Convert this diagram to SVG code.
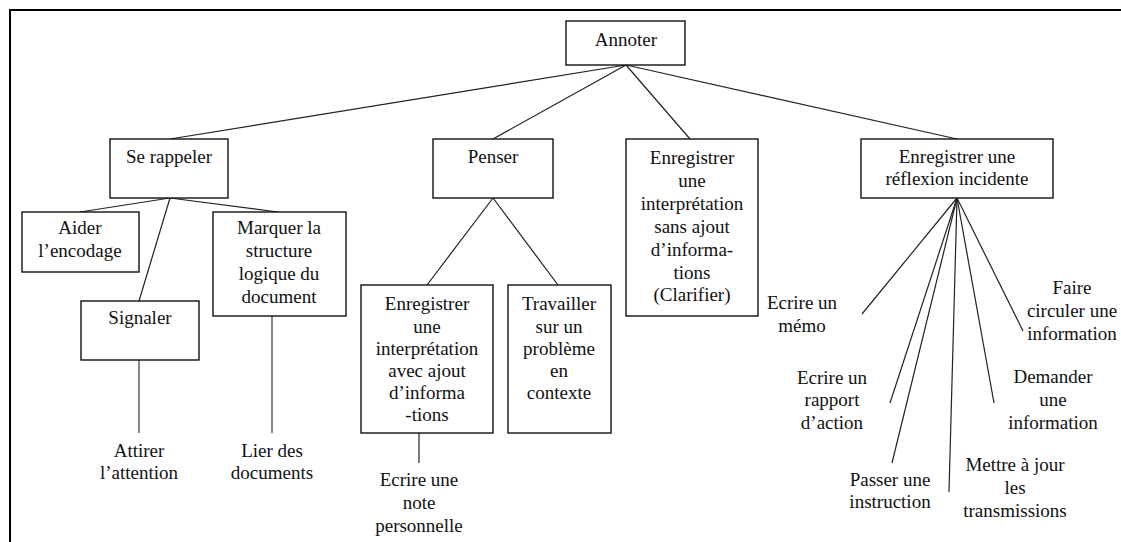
<svg xmlns="http://www.w3.org/2000/svg" width="1121" height="542" viewBox="0 0 1121 542">
<style>
.box{fill:#fff;stroke:#111;stroke-width:1.4}
.t{font-size:19px;fill:#111;text-anchor:middle}
.c{stroke:#222;stroke-width:1.2;fill:none}
.g{stroke:#555;stroke-width:1.4;fill:none}
</style>
<rect x="0" y="0" width="1121" height="542" fill="#fff"/>
<g id="frame" stroke="#000" stroke-width="2">
<line x1="9" y1="10" x2="1121" y2="10"/>
<line x1="10" y1="9" x2="10" y2="542"/>
</g>
<g id="connectors">
<line class="c" x1="626" y1="65" x2="170" y2="139"/>
<line class="c" x1="626" y1="65" x2="493" y2="139"/>
<line class="c" x1="626" y1="65" x2="690" y2="139"/>
<line class="c" x1="626" y1="65" x2="957" y2="139"/>
<line class="c" x1="170" y1="198" x2="80" y2="212"/>
<line class="c" x1="170" y1="198" x2="278" y2="212"/>
<line class="c" x1="170" y1="198" x2="139" y2="301"/>
<line class="g" x1="139" y1="360" x2="139" y2="433"/>
<line class="g" x1="272" y1="316" x2="272" y2="433"/>
<line class="c" x1="493" y1="198" x2="427" y2="285"/>
<line class="c" x1="493" y1="198" x2="558" y2="285"/>
<line class="c" x1="419" y1="433" x2="419" y2="463"/>
<line class="c" x1="957" y1="198" x2="862" y2="314"/>
<line class="c" x1="957" y1="198" x2="890" y2="403"/>
<line class="c" x1="957" y1="198" x2="892" y2="463"/>
<line class="c" x1="957" y1="198" x2="949" y2="492"/>
<line class="c" x1="957" y1="198" x2="994" y2="403"/>
<line class="c" x1="957" y1="198" x2="1023" y2="331"/>
</g>
<g font-family="Liberation Serif, Times New Roman, serif">
<g id="annoter">
<rect class="box" x="566" y="21" width="119" height="44"/>
<text class="t" x="626" y="46">Annoter</text>
</g>
<g id="se-rappeler">
<rect class="box" x="110" y="139" width="118" height="59"/>
<text class="t" x="169" y="163">Se rappeler</text>
</g>
<g id="aider">
<rect class="box" x="22" y="212" width="117" height="60"/>
<text class="t" x="80" y="234">Aider</text>
<text class="t" x="80" y="257">l’encodage</text>
</g>
<g id="marquer">
<rect class="box" x="213" y="212" width="133" height="104"/>
<text class="t" x="279" y="234">Marquer la</text>
<text class="t" x="279" y="257">structure</text>
<text class="t" x="279" y="280">logique du</text>
<text class="t" x="279" y="303">document</text>
</g>
<g id="signaler">
<rect class="box" x="81" y="301" width="118" height="59"/>
<text class="t" x="140" y="324">Signaler</text>
</g>
<g id="attirer">
<text class="t" x="139" y="457">Attirer</text>
<text class="t" x="139" y="479">l’attention</text>
</g>
<g id="lier">
<text class="t" x="272" y="457">Lier des</text>
<text class="t" x="272" y="479">documents</text>
</g>
<g id="penser">
<rect class="box" x="433" y="139" width="120" height="59"/>
<text class="t" x="493" y="163">Penser</text>
</g>
<g id="clarifier">
<rect class="box" x="626" y="139" width="132" height="177"/>
<text class="t" x="692" y="164">Enregistrer</text>
<text class="t" x="692" y="187">une</text>
<text class="t" x="692" y="210">interprétation</text>
<text class="t" x="692" y="233">sans ajout</text>
<text class="t" x="692" y="256">d’informa-</text>
<text class="t" x="692" y="279">tions</text>
<text class="t" x="692" y="301">(Clarifier)</text>
</g>
<g id="reflexion">
<rect class="box" x="861" y="139" width="192" height="59"/>
<text class="t" x="957" y="163">Enregistrer une</text>
<text class="t" x="957" y="185">réflexion incidente</text>
</g>
<g id="avec-ajout">
<rect class="box" x="361" y="285" width="132" height="148"/>
<text class="t" x="427" y="310">Enregistrer</text>
<text class="t" x="427" y="333">une</text>
<text class="t" x="427" y="355">interprétation</text>
<text class="t" x="427" y="377">avec ajout</text>
<text class="t" x="427" y="399">d’informa</text>
<text class="t" x="427" y="421">-tions</text>
</g>
<g id="travailler">
<rect class="box" x="508" y="285" width="103" height="148"/>
<text class="t" x="559" y="310">Travailler</text>
<text class="t" x="559" y="333">sur un</text>
<text class="t" x="559" y="355">problème</text>
<text class="t" x="559" y="377">en</text>
<text class="t" x="559" y="399">contexte</text>
</g>
<g id="note">
<text class="t" x="419" y="486">Ecrire une</text>
<text class="t" x="419" y="509">note</text>
<text class="t" x="419" y="532">personnelle</text>
</g>
<g id="memo">
<text class="t" x="802" y="309">Ecrire un</text>
<text class="t" x="802" y="332">mémo</text>
</g>
<g id="rapport">
<text class="t" x="832" y="384">Ecrire un</text>
<text class="t" x="832" y="406">rapport</text>
<text class="t" x="832" y="429">d’action</text>
</g>
<g id="instruction">
<text class="t" x="890" y="486">Passer une</text>
<text class="t" x="890" y="508">instruction</text>
</g>
<g id="transmissions">
<text class="t" x="1015" y="471">Mettre à jour</text>
<text class="t" x="1015" y="494">les</text>
<text class="t" x="1015" y="517">transmissions</text>
</g>
<g id="demander">
<text class="t" x="1053" y="383">Demander</text>
<text class="t" x="1053" y="406">une</text>
<text class="t" x="1053" y="429">information</text>
</g>
<g id="circuler">
<text class="t" x="1072" y="294">Faire</text>
<text class="t" x="1072" y="317">circuler une</text>
<text class="t" x="1072" y="340">information</text>
</g>
</g>
</svg>
